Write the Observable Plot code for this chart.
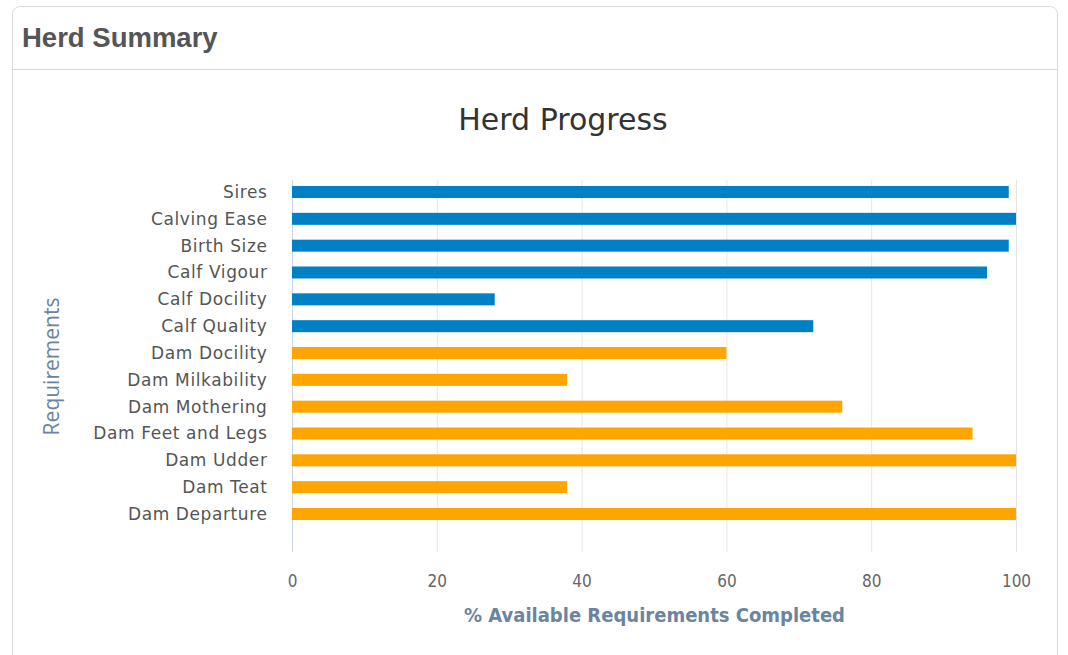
<!DOCTYPE html>
<html>
<head>
<meta charset="utf-8">
<script src="https://cdn.jsdelivr.net/npm/d3@7"></script>
<script src="https://cdn.jsdelivr.net/npm/@observablehq/plot@0.6"></script>
<style>
  html, body { margin: 0; padding: 0; background: #fff; width: 1068px; height: 655px; overflow: hidden; position: relative; }
  #card { position: absolute; left: 12px; top: 6px; width: 1046px; height: 700px; border: 1px solid #dcdcdc; border-radius: 8px; box-sizing: border-box; }
  #header { position: absolute; left: 12px; top: 6px; width: 1046px; height: 64px; border-bottom: 1px solid #d8d8d8; box-sizing: border-box; }
  #header span { position: absolute; left: 10px; top: 16px; font: bold 27.5px "Liberation Sans", Arial, sans-serif; color: #555; }
  #title { position: absolute; left: 0; width: 1126px; top: 102px; text-align: center; font: 30px "DejaVu Sans", sans-serif; color: #333; }
  #chart { position: absolute; left: 0; top: 150px; }
</style>
</head>
<body>
<div id="card"></div>
<div id="header"><span>Herd Summary</span></div>
<div id="title">Herd Progress</div>
<div id="chart"></div>
<script>
const categories = ["Sires", "Calving Ease", "Birth Size", "Calf Vigour", "Calf Docility", "Calf Quality",
  "Dam Docility", "Dam Milkability", "Dam Mothering", "Dam Feet and Legs", "Dam Udder", "Dam Teat", "Dam Departure"];
const values = [99, 100, 99, 96, 28, 72, 60, 38, 76, 94, 100, 38, 100];
const groups = ["Calf", "Calf", "Calf", "Calf", "Calf", "Calf", "Dam", "Dam", "Dam", "Dam", "Dam", "Dam", "Dam"];
const xTicks = [0, 20, 40, 60, 80, 100];
const colors = { Calf: "#0180c6", Dam: "#ffa500" };

const data = categories.map((c, i) => ({ name: c, value: values[i], group: groups[i] }));

const plot = Plot.plot({
  width: 1068,
  height: 490,
  marginLeft: 292,
  marginRight: 52,
  marginTop: 30,
  marginBottom: 88,
  style: { background: "transparent" },
  x: { domain: [0, 100] },
  y: { domain: categories, range: [36, 370], paddingInner: 0.553, paddingOuter: 0, round: false },
  marks: [
    Plot.ruleX(xTicks, { stroke: "#e6e6e6", strokeWidth: 1 }),
    Plot.ruleX([0], { stroke: "#ccd6eb", strokeWidth: 1 }),
    Plot.barX(data, { x: "value", y: "name", fill: d => colors[d.group] }),
    Plot.axisX({
      ticks: xTicks, tickSize: 0, tickPadding: 22, fontSize: 17,
      fontFamily: "'Liberation Sans Narrow', 'DejaVu Sans Condensed', sans-serif",
      color: "#666", label: "% Available Requirements Completed", labelAnchor: "center",
      labelOffset: 69, labelArrow: "none"
    }),
    Plot.axisY({
      tickSize: 0, tickPadding: 25, fontSize: 17, fontFamily: "'DejaVu Sans', sans-serif",
      color: "#555", label: "Requirements", labelAnchor: "center", labelOffset: 248, labelArrow: "none"
    })
  ]
});
document.getElementById("chart").appendChild(plot);

const svg = d3.select(plot);
svg.selectAll("g[aria-label='y-axis tick label'] text").style("letter-spacing", "0.6px");
svg.selectAll("g[aria-label='x-axis label'] text")
  .attr("fill", "#6a84a1").style("font-weight", "bold").style("font-size", "20px")
  .style("font-family", "'Liberation Sans Narrow', 'DejaVu Sans Condensed', sans-serif");
svg.selectAll("g[aria-label='y-axis label'] text")
  .attr("fill", "#6a84a1").style("font-size", "21px")
  .style("font-family", "'Open Sans', 'DejaVu Sans', sans-serif");
</script>
</body>
</html>
